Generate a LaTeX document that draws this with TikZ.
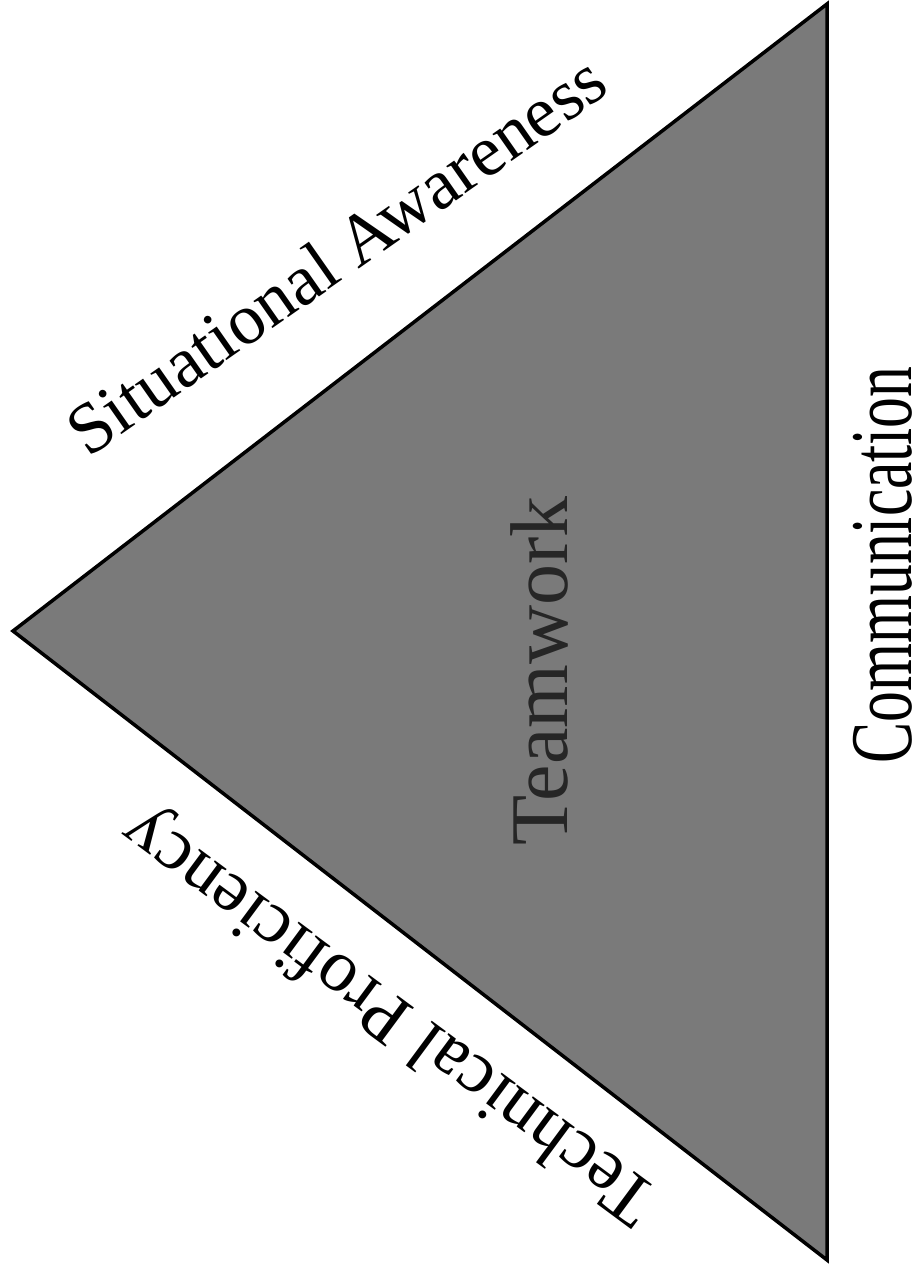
\documentclass[tikz,border=0pt]{standalone}
\usepackage{fontspec}
\setmainfont{Liberation Serif}
\begin{document}
\begin{tikzpicture}[x=1pt,y=1pt,
  lbl/.style={inner sep=0pt, anchor=base, text=black},
  tri/.style={draw=black, line width=3.5pt, line join=miter, fill=tfill}]
\definecolor{tfill}{HTML}{7A7A7A}
\definecolor{tword}{HTML}{262626}
\useasboundingbox[fill=white] (0,0) rectangle (922,1265);
\coordinate (L) at (13,634);
\coordinate (T) at (827,1261);
\coordinate (B) at (827,5);
\path[tri] (L) -- (T) -- (B) -- cycle;
\node[lbl, rotate=90, text=tword] (team) at (567,594) {\fontsize{82}{82}\selectfont Teamwork};
\node[lbl, rotate=90] (comm) at (911,700) {\scalebox{0.7}[1]{\fontsize{88}{88}\selectfont Communication}};
\node[lbl, rotate=35] (sa) at (350,990) {\fontsize{72}{72}\selectfont Situational Awareness};
\node[lbl, rotate=143.5] (tp) at (402,266) {\fontsize{74}{74}\selectfont Technical Proficiency};
\end{tikzpicture}
\end{document}
